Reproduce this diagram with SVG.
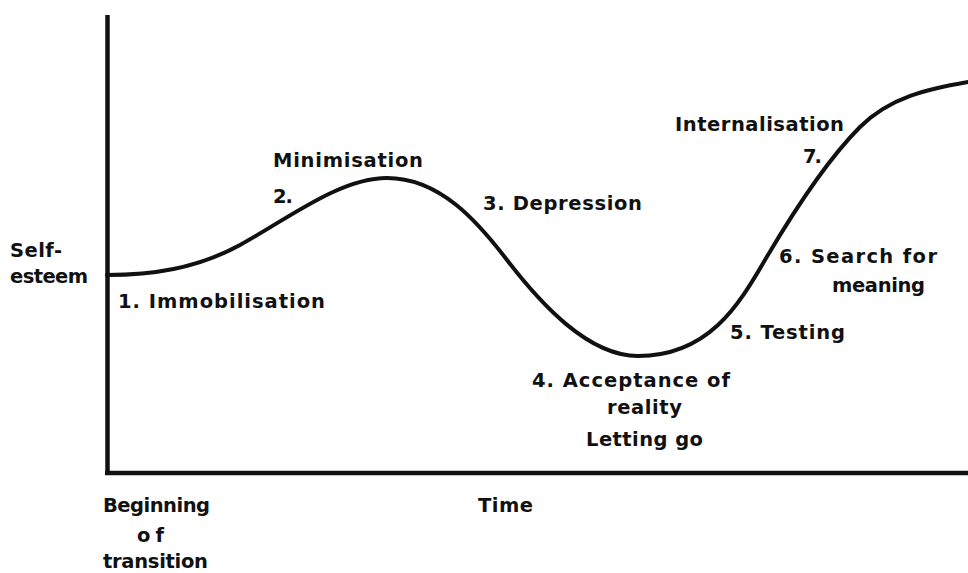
<svg xmlns="http://www.w3.org/2000/svg" width="968" height="573" viewBox="0 0 968 573">
<style>
.t{font-family:"DejaVu Sans","Liberation Sans",Arial,sans-serif;font-size:19.5px;font-weight:bold;fill:#111;}
.ax{stroke:#111;stroke-width:4.5;fill:none;stroke-linecap:butt;}
.cv{stroke:#111;stroke-width:4;fill:none;stroke-linecap:round;stroke-linejoin:round;}
</style>
<rect width="968" height="573" fill="#fff"/>
<g id="axes">
<line class="ax" x1="107.5" y1="15" x2="107.5" y2="475"/>
<line class="ax" x1="105" y1="473" x2="968" y2="473"/>
</g>
<g id="curve">
<path class="cv" d="M107,275 C151,275 196,269 240,245 C289,218 340,178 387,178 C440,178 478,222 507,260 C540,303 588,356 638,356 C710,356 740,302.5 765,260 C795,209 830,157 860,127 C890,97 928,89 968,82"/>
</g>
<g id="labels">
<text class="t" x="10" y="257" textLength="52" lengthAdjust="spacing">Self-</text>
<text class="t" x="10" y="283" textLength="78" lengthAdjust="spacing">esteem</text>
<text class="t" x="118" y="308" textLength="207" lengthAdjust="spacing">1. Immobilisation</text>
<text class="t" x="273" y="167" textLength="150" lengthAdjust="spacing">Minimisation</text>
<text class="t" x="273" y="203" textLength="20" lengthAdjust="spacing">2.</text>
<text class="t" x="483" y="210" textLength="159" lengthAdjust="spacing">3. Depression</text>
<text class="t" x="532" y="387" textLength="198" lengthAdjust="spacing">4. Acceptance of</text>
<text class="t" x="607" y="414" textLength="75" lengthAdjust="spacing">reality</text>
<text class="t" x="586" y="446" textLength="117" lengthAdjust="spacing">Letting go</text>
<text class="t" x="730" y="339" textLength="115" lengthAdjust="spacing">5. Testing</text>
<text class="t" x="779" y="263" textLength="158" lengthAdjust="spacing">6. Search for</text>
<text class="t" x="832" y="292" textLength="93" lengthAdjust="spacing">meaning</text>
<text class="t" x="675" y="131" textLength="169" lengthAdjust="spacing">Internalisation</text>
<text class="t" x="803" y="163" textLength="19" lengthAdjust="spacing">7.</text>
<text class="t" x="103" y="512" textLength="107" lengthAdjust="spacing">Beginning</text>
<text class="t" x="137" y="542" textLength="27" lengthAdjust="spacing">of</text>
<text class="t" x="103" y="568" textLength="105" lengthAdjust="spacing">transition</text>
<text class="t" x="478" y="512" textLength="55" lengthAdjust="spacing">Time</text>
</g>
</svg>
